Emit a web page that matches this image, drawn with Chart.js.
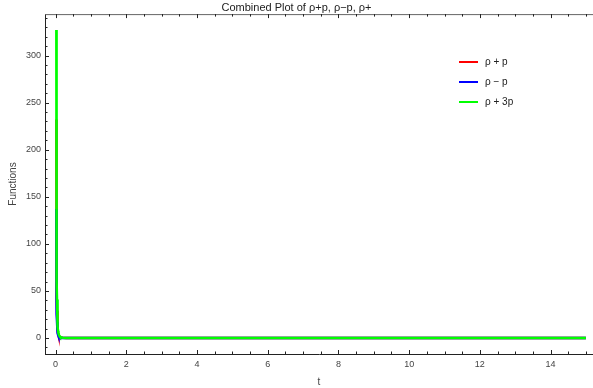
<!DOCTYPE html>
<html>
<head>
<meta charset="utf-8">
<script src="https://cdn.jsdelivr.net/npm/chart.js@4"></script>
<style>
  html, body { margin: 0; padding: 0; background: #fff; }
  #wrap { width: 593px; height: 388px; }
</style>
</head>
<body>
<div id="wrap"><canvas id="plot"></canvas></div>
<script>
const tValues = [0.02, 0.022, 0.025, 0.03, 0.035, 0.04, 0.05, 0.06, 0.07, 0.08, 0.1, 0.12, 0.15, 0.2, 0.3, 0.5, 1, 2, 3, 4, 5, 6, 7, 8, 9, 10, 11, 12, 13, 14, 15];
const rhoPlusP = [232, 174, 119, 69, 43, 29, 14.8, 8.6, 5.4, 3.6, 1.9, 1.1, 0.55, 0.23, 0.07, 0.015, 0, 0, 0, 0, 0, 0, 0, 0, 0, 0, 0, 0, 0, 0, 0];
const rhoMinusP = [137, 103, 70, 41, 25.6, 17.2, 8.8, 5.1, 3.2, 2.1, 0.9, 0.4, 0.05, -0.1, -0.1, -0.05, 0, 0, 0, 0, 0, 0, 0, 0, 0, 0, 0, 0, 0, 0, 0];
const rhoPlus3P = [327, 245.7, 167.4, 96.9, 61, 40.9, 20.9, 12.1, 7.6, 5.1, 2.6, 1.5, 0.78, 0.33, 0.1, 0.02, 0, 0, 0, 0, 0, 0, 0, 0, 0, 0, 0, 0, 0, 0, 0];

const seriesLabels = ['\u03c1 + p', '\u03c1 \u2212 p', '\u03c1 + 3p'];
const xTicks = [0, 2, 4, 6, 8, 10, 12, 14];
const yTicks = [0, 50, 100, 150, 200, 250, 300];

const FONT = 'Liberation Sans, Arial, sans-serif';

function pts(ys) {
  return tValues.map((t, i) => ({ x: t, y: ys[i] }));
}

// ticks drawn inward like a framed plot, plus top frame and legend
const framePlugin = {
  id: 'frame',
  afterDraw(chart) {
    const { ctx, chartArea: a, scales: { x, y } } = chart;
    ctx.save();
    ctx.lineWidth = 1;
    // top frame line
    ctx.strokeStyle = '#666';
    ctx.beginPath();
    ctx.moveTo(a.left, a.top + 0.5);
    ctx.lineTo(a.right, a.top + 0.5);
    ctx.stroke();
    ctx.strokeStyle = '#222';
    // x ticks (bottom and top)
    for (let v = 0; v <= 15.001; v += 0.5) {
      const px = Math.round(x.getPixelForValue(v)) + 0.5;
      const major = Math.abs(v % 2) < 1e-6;
      const len = major ? 4 : 2.5;
      ctx.beginPath();
      ctx.moveTo(px, a.bottom);
      ctx.lineTo(px, a.bottom - len);
      ctx.moveTo(px, a.top);
      ctx.lineTo(px, a.top + len);
      ctx.stroke();
    }
    // y ticks
    for (let v = -10; v <= 340; v += 10) {
      const py = Math.round(y.getPixelForValue(v)) + 0.5;
      const major = v % 50 === 0;
      const len = major ? 4 : 2.5;
      ctx.beginPath();
      ctx.moveTo(a.left, py);
      ctx.lineTo(a.left + len, py);
      ctx.stroke();
    }
    // legend
    const colors = ['#ff0000', '#0000ff', '#00ff00'];
    ctx.font = '10px ' + FONT;
    ctx.textBaseline = 'middle';
    ctx.fillStyle = '#222';
    seriesLabels.forEach((lab, i) => {
      const ly = 62 + i * 20;
      ctx.strokeStyle = colors[i];
      ctx.lineWidth = 2;
      ctx.beginPath();
      ctx.moveTo(459, ly);
      ctx.lineTo(478, ly);
      ctx.stroke();
      ctx.fillText(lab, 485, ly + 0.5);
    });
    ctx.restore();
  }
};

new Chart(document.getElementById('plot'), {
  type: 'line',
  data: {
    datasets: [
      { label: seriesLabels[0], data: pts(rhoPlusP), borderColor: '#ff0000', order: 2 },
      { label: seriesLabels[1], data: pts(rhoMinusP), borderColor: '#0000ff', order: 1 },
      { label: seriesLabels[2], data: pts(rhoPlus3P), borderColor: '#00ff00', order: 0 }
    ]
  },
  options: {
    responsive: true,
    maintainAspectRatio: false,
    animation: false,
    layout: { padding: 0 },
    elements: {
      line: { borderWidth: 2.5, tension: 0, fill: false },
      point: { radius: 0 }
    },
    plugins: {
      legend: { display: false },
      tooltip: { enabled: false },
      title: {
        display: true,
        text: 'Combined Plot of \u03c1+p, \u03c1\u2212p, \u03c1+',
        color: '#222',
        font: { family: FONT, size: 11, weight: 'normal', lineHeight: 1.1 },
        padding: { top: 2, bottom: 0 }
      }
    },
    scales: {
      x: {
        type: 'linear',
        min: -0.3,
        max: 15.2,
        afterBuildTicks: s => { s.ticks = xTicks.map(v => ({ value: v })); },
        afterFit: s => { s.height = 34; },
        grid: { display: true, drawOnChartArea: false, drawTicks: false },
        border: { display: true, color: '#222', width: 1 },
        ticks: { color: '#444', padding: 5, font: { family: FONT, size: 9 }, maxRotation: 0 },
        title: { display: true, text: 't', color: '#444', font: { family: FONT, size: 10 }, padding: { top: 2, bottom: 0 } }
      },
      y: {
        min: -17,
        max: 344,
        afterBuildTicks: s => { s.ticks = yTicks.map(v => ({ value: v })); },
        afterFit: s => { s.width = 45; },
        grid: { display: true, drawOnChartArea: false, drawTicks: false },
        border: { display: true, color: '#222', width: 1 },
        ticks: { color: '#444', padding: 4, font: { family: FONT, size: 9 } },
        title: { display: true, text: 'Functions', color: '#444', font: { family: FONT, size: 10 }, padding: { top: 7, bottom: 0 } }
      }
    }
  },
  plugins: [framePlugin]
});
</script>
</body>
</html>
